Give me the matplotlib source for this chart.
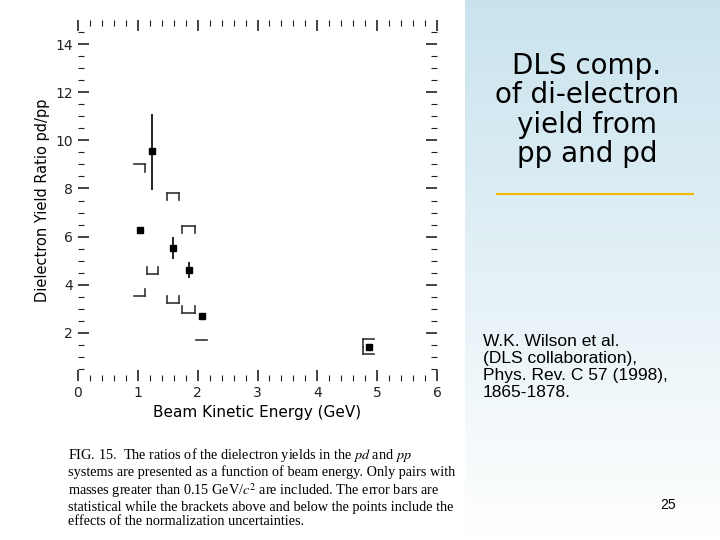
import matplotlib
matplotlib.use("Agg")
import matplotlib.pyplot as plt
import numpy as np
from matplotlib.colors import LinearSegmentedColormap

plt.rcParams["mathtext.fontset"] = "stix"

# data
energy = [1.03, 1.24, 1.59, 1.85, 2.08, 4.87]
ratio = [6.27, 9.54, 5.53, 4.63, 2.72, 1.40]
err_lo = [0.0, 1.59, 0.48, 0.33, 0.0, 0.0]
err_hi = [0.0, 1.56, 0.47, 0.32, 0.0, 0.0]
# brackets: x start, x end, y, direction (+1 tick up, -1 tick down, 0 plain)
br_x0 = [0.93, 0.93, 1.15, 1.49, 1.49, 1.74, 1.74, 1.97, 4.76, 4.76]
br_x1 = [1.12, 1.12, 1.34, 1.69, 1.69, 1.96, 1.96, 2.16, 4.95, 4.95]
br_y = [9.0, 3.53, 4.44, 7.81, 3.25, 6.43, 2.83, 1.70, 1.73, 1.12]
br_dir = [-1, 1, 1, -1, 1, -1, 1, 0, -1, 1]
br_sides = ["r", "r", "both", "both", "both", "both", "both", "none", "l", "l"]

fig = plt.figure(figsize=(7.2, 5.4), dpi=100)
bg = fig.add_axes([465/720, 0, 255/720, 1])
grad = np.linspace(0, 1, 256).reshape(-1, 1)
cm = LinearSegmentedColormap.from_list("b", ["#ffffff", "#e4f1f6", "#c9e3ee"])
bg.imshow(grad, aspect="auto", cmap=cm, extent=[0, 1, 0, 1], origin="lower")
bg.set_axis_off()

ax = fig.add_axes([78/720, (540-381)/540, (437-78)/720, (381-20)/540])
ax.errorbar(energy, ratio, yerr=[err_lo, err_hi], fmt="s", color="black",
            ms=5, elinewidth=1.2, capsize=0)
for x0, x1, y, d, s in zip(br_x0, br_x1, br_y, br_dir, br_sides):
    ax.plot([x0, x1], [y, y], color="#333333", lw=1.2)
    h = 0.3 * d
    if d != 0:
        if s in ("r", "both"):
            ax.plot([x1, x1], [y, y + h], color="#333333", lw=1.2)
        if s in ("l", "both"):
            ax.plot([x0, x0], [y, y + h], color="#333333", lw=1.2)
ax.set_xlim(0, 6)
ax.set_ylim(0, 15)
ax.set_xticks(range(0, 7))
ax.set_yticks(range(2, 15, 2))
ax.set_xticks(np.arange(0.2, 5.9, 0.2), minor=True)
ax.set_yticks(np.arange(0.5, 14.6, 0.5), minor=True)
for sp in ax.spines.values():
    sp.set_visible(False)
ax.tick_params(which="both", direction="in", top=True, right=True,
               labelsize=10, colors="#222222")
ax.tick_params(which="major", length=8, width=1.2)
ax.tick_params(which="minor", length=4, width=0.8)
ax.set_xlabel("Beam Kinetic Energy (GeV)", fontsize=11)
ax.set_ylabel("Dielectron Yield Ratio pd/pp", fontsize=10.5)

fig.text(587/720, 1 - 110/540, "DLS comp.\nof di-electron\nyield from\npp and pd",
         ha="center", va="center", fontsize=20, family="DejaVu Sans", linespacing=1.05)
fig.add_artist(plt.Line2D([497/720, 693/720], [1 - 194/540] * 2, color="#f5b800", lw=1.5))
fig.text(483/720, 1 - 367/540,
         "W.K. Wilson et al.\n(DLS collaboration),\nPhys. Rev. C 57 (1998),\n1865-1878.",
         ha="left", va="center", fontsize=12.5, family="Liberation Sans", linespacing=1.15)
fig.text(668/720, 1 - 505/540, "25", ha="center", va="center", fontsize=10,
         family="Liberation Sans")
fig.text(68/720, 1 - 487/540,
         "FIG. 15.  The ratios of the dielectron yields in the $pd$ and $pp$\n"
         "systems are presented as a function of beam energy. Only pairs with\n"
         "masses greater than 0.15 GeV/$c^2$ are included. The error bars are\n"
         "statistical while the brackets above and below the points include the\n"
         "effects of the normalization uncertainties.",
         ha="left", va="center", fontsize=10.3, family="Liberation Serif", linespacing=1.1)
fig.savefig("out.png", dpi=100)
